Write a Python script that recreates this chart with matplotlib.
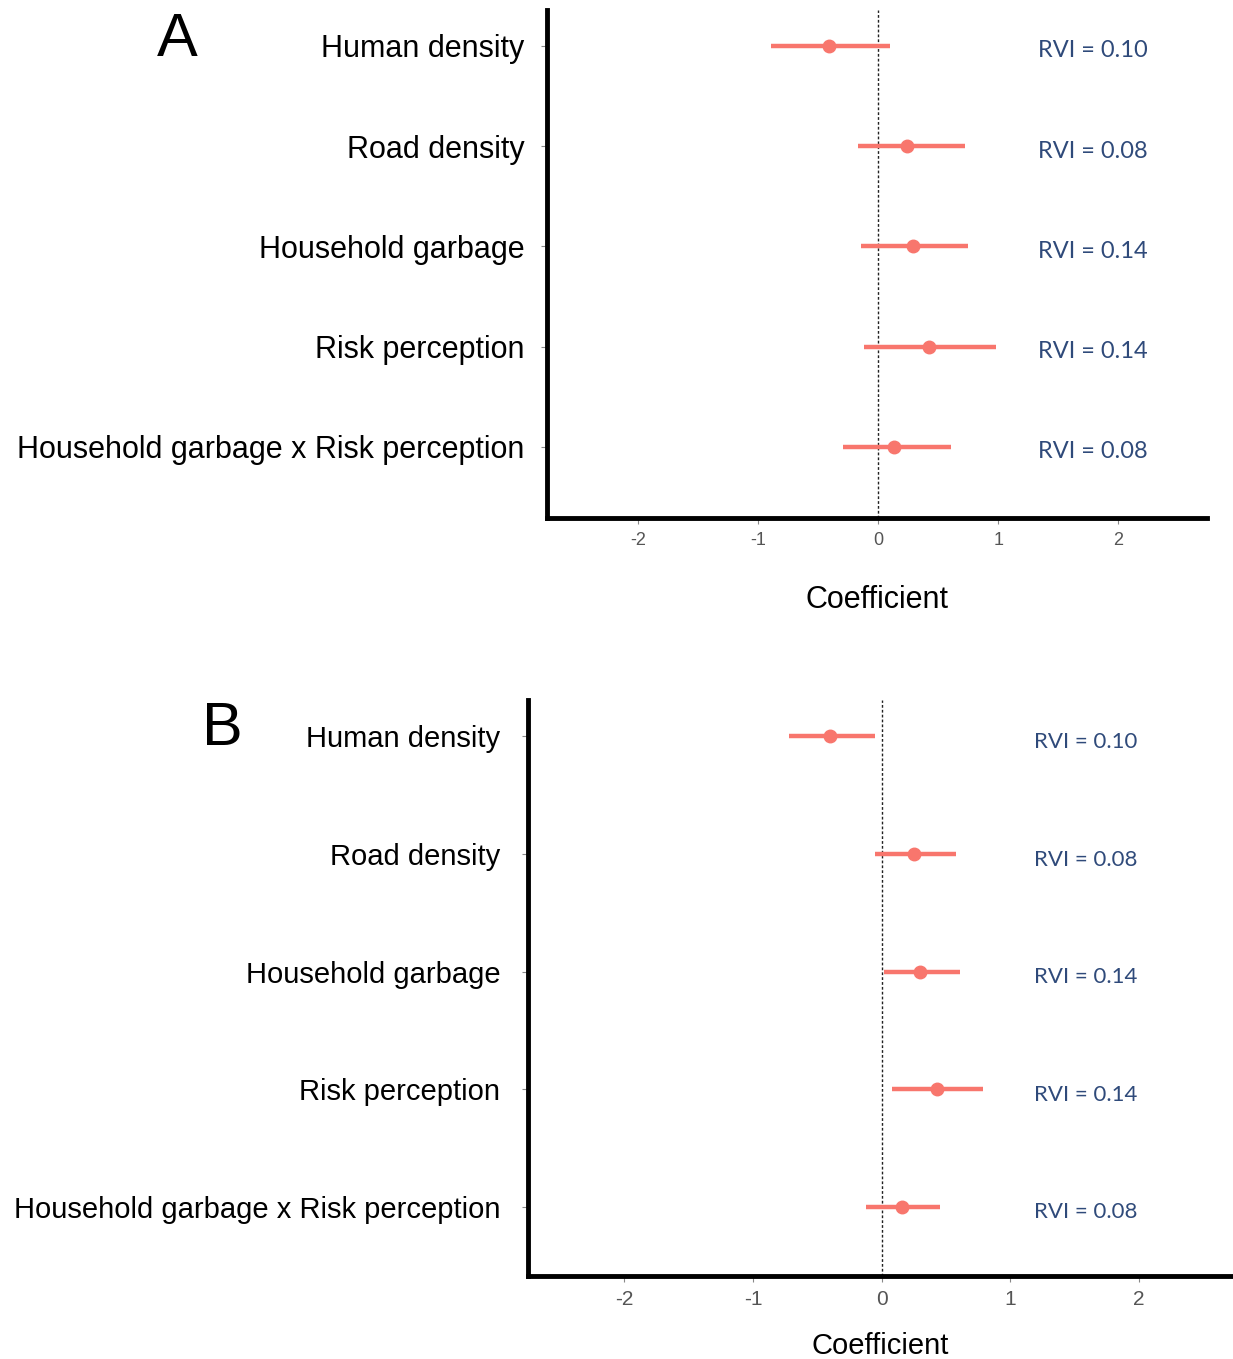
import matplotlib
matplotlib.use("Agg")
import matplotlib.pyplot as plt

# Model-averaged coefficients with 95% CI, two model sets (A and B)
TERMS = ["Human density", "Road density", "Household garbage",
         "Risk perception", "Household garbage x Risk perception"]
RVI = ["0.10", "0.08", "0.14", "0.14", "0.08"]

A_EST = [-0.41, 0.24, 0.29, 0.42, 0.13]
A_LO = [-0.89, -0.17, -0.14, -0.12, -0.29]
A_HI = [0.10, 0.72, 0.75, 0.98, 0.61]

B_EST = [-0.40, 0.25, 0.30, 0.43, 0.16]
B_LO = [-0.72, -0.05, 0.02, 0.08, -0.12]
B_HI = [-0.05, 0.58, 0.61, 0.79, 0.45]

XTICKS = [-2, -1, 0, 1, 2]
RED = "#F8766D"
NAVY = "#2F4A7A"
SANS = ["Liberation Sans", "DejaVu Sans"]
NARROW = ["Liberation Sans Narrow", "Liberation Sans", "DejaVu Sans"]

fig = plt.figure(figsize=(12.33, 13.59), dpi=100)


def panel(rect, est, lo, hi, letter, letter_xy, ylim, xlim, rvi_x, rvi_fs,
          label_fs, ypad, tick_fs, xlabel_fs, xlabel_pad):
    ax = fig.add_axes(rect)
    y = list(range(len(TERMS)))
    ax.axvline(0, color="#222222", lw=1.0, ls=(0, (2, 1.5)), zorder=1)
    ax.hlines(y, lo, hi, color=RED, lw=3.2, zorder=2)
    ax.plot(est, y, "o", color=RED, ms=9, zorder=3)
    ax.set_ylim(*ylim)
    ax.set_xlim(*xlim)
    ax.set_yticks(y)
    ax.set_yticklabels(TERMS, fontsize=label_fs, family=SANS, color="black")
    ax.set_xticks(XTICKS)
    ax.set_xticklabels([str(v) for v in XTICKS], fontsize=tick_fs, family=NARROW,
                       color="#555555")
    ax.tick_params(axis="y", length=4, width=0.8, color="#888888", pad=ypad)
    ax.tick_params(axis="x", length=4, width=0.8, color="#888888", pad=6)
    for s in ["top", "right"]:
        ax.spines[s].set_visible(False)
    for s in ["left", "bottom"]:
        ax.spines[s].set_linewidth(3.5)
        ax.spines[s].set_color("black")
    ax.set_xlabel("Coefficient", fontsize=xlabel_fs, family=NARROW, labelpad=xlabel_pad)
    for yi, r in zip(y, RVI):
        ax.text(rvi_x, yi + 0.05, f"RVI = {r}", fontsize=rvi_fs, color=NAVY,
                family=["Lato", "DejaVu Sans"], va="center", ha="left")
    fig.text(letter_xy[0], letter_xy[1], letter, fontsize=44, family=SANS,
             ha="left", va="top")
    return ax


panel([0.4436, 0.6188, 0.5354, 0.374], A_EST, A_LO, A_HI, "A", (0.127, 0.991),
      (4.71, -0.36), (-2.76, 2.74), 1.33, 17, 22, 12, 13, 22, 26)
panel([0.4282, 0.0611, 0.5718, 0.4238], B_EST, B_LO, B_HI, "B", (0.164, 0.484),
      (4.59, -0.31), (-2.75, 2.73), 1.18, 16, 21, 16, 15, 21, 17)

fig.savefig("out.png", dpi=100, facecolor="white")
